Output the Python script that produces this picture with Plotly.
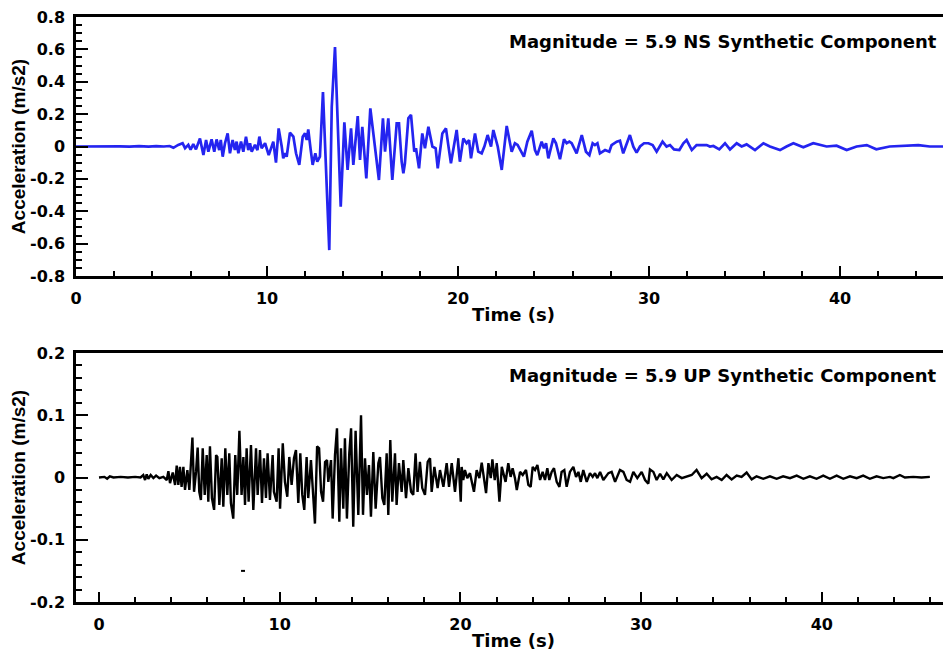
import plotly.graph_objects as go

# ---------------- data ----------------
# NS synthetic component (blue), time in s, acceleration in m/s2
ns_t = [0, 0.6, 1.0, 1.3, 1.8, 2.3, 2.8, 3.3, 3.8, 4.2, 4.6, 4.9, 5.1, 5.35, 5.58, 5.71, 5.88, 6.0, 6.14, 6.28,
        6.49, 6.67, 6.81, 6.93, 7.10, 7.24, 7.36, 7.50, 7.58, 7.68, 7.80, 7.94, 8.06, 8.20, 8.32, 8.41, 8.50, 8.64,
        8.76, 8.90, 9.02, 9.11, 9.20, 9.37, 9.50, 9.60, 9.72, 9.90, 10.09, 10.33, 10.47, 10.61, 10.77, 10.85, 10.94,
        11.03, 11.20, 11.38, 11.52, 11.69, 11.87, 11.99, 12.08, 12.16, 12.29, 12.39, 12.53, 12.63, 12.77, 12.93,
        13.26, 13.39, 13.56, 13.75, 13.86, 14.05, 14.22, 14.40, 14.52, 14.75, 14.87, 14.99, 15.08, 15.20, 15.41,
        15.65, 15.86, 16.07, 16.18, 16.35, 16.56, 16.79, 16.91, 17.05, 17.14, 17.22, 17.40, 17.54, 17.71, 17.80,
        17.96, 18.13, 18.27, 18.45, 18.66, 18.83, 18.94, 19.18, 19.37, 19.49, 19.63, 19.93, 20.10, 20.28, 20.45,
        20.58, 20.68, 20.89, 21.06, 21.24, 21.38, 21.55, 21.73, 21.85, 22.08, 22.29, 22.55, 22.81, 22.98, 23.12,
        23.33, 23.45, 23.63, 23.86, 24.03, 24.15, 24.38, 24.50, 24.61, 24.73, 24.99, 25.13, 25.34, 25.55, 25.69,
        25.83, 25.95, 26.21, 26.48, 26.70, 26.88, 27.05, 27.17, 27.30, 27.43, 27.70, 27.92, 28.04, 28.31, 28.48,
        28.65, 29.0, 29.18, 29.35, 29.53, 29.74, 29.97, 30.19, 30.40, 30.71, 30.92, 31.10, 31.31, 31.59, 31.80,
        31.97, 32.24, 32.49, 32.76, 33.02, 33.19, 33.37, 33.68, 33.98, 34.24, 34.59, 34.85, 35.11, 35.55, 35.99,
        36.33, 36.86, 37.2, 37.56, 38.08, 38.6, 39.3, 39.82, 40.35, 40.87, 41.4, 41.9, 42.6, 43.1, 44.1, 44.7,
        45.3, 46.0]
ns_a = [0, 0.001, -0.002, 0.002, -0.001, 0.001, -0.001, 0.002, -0.001, 0.002, 0.0, 0.003, -0.008, 0.01, 0.02,
        -0.01, 0.01, -0.02, 0.015, -0.018, 0.05, -0.053, 0.04, -0.032, 0.044, -0.032, 0.044, -0.022, 0.04, -0.063,
        0.02, 0.081, -0.042, 0.04, -0.022, 0.03, -0.042, 0.03, -0.032, 0.061, -0.022, 0.02, -0.032, 0.01, -0.022,
        0.061, -0.011, 0.02, -0.053, 0.03, -0.10, 0.112, 0.0, -0.073, -0.042, -0.063, 0.085, 0.061, -0.042, -0.114,
        0.061, 0.081, 0.04, 0.106, -0.022, -0.114, -0.042, -0.094, -0.063, 0.337, -0.64, 0.246, 0.615, -0.063,
        -0.372, 0.15, -0.145, 0.112, -0.114, 0.188, -0.083, 0.122, -0.042, -0.197, 0.236, -0.022, -0.207, 0.174,
        -0.032, 0.174, -0.207, 0.143, 0.143, -0.094, -0.166, -0.104, 0.174, 0.195, -0.032, -0.011, -0.135, 0.081,
        -0.011, 0.122, 0.0, -0.011, -0.135, 0.081, 0.112, 0.01, -0.104, 0.102, -0.094, 0.05, 0.02, 0.04, -0.073,
        0.081, -0.032, -0.042, 0.0, 0.071, 0.0, 0.102, 0.0, -0.145, 0.127, -0.032, 0.02, 0.01, -0.042, -0.063, 0.03,
        0.098, -0.022, -0.053, 0.03, -0.011, 0.02, -0.073, 0.05, 0.02, -0.079, 0.044, 0.02, 0.03, 0.02, -0.042,
        0.071, -0.032, -0.053, 0.02, 0.009, 0.02, -0.042, -0.022, -0.032, 0.009, 0.03, 0.036, -0.042, 0.071, -0.001,
        -0.038, 0.0, 0.02, 0.02, 0.009, -0.032, 0.03, 0.0, 0.009, -0.018, -0.022, 0.02, 0.04, -0.022, 0.009, 0.009,
        0.009, 0.0, 0.003, -0.018, 0.02, -0.018, 0.02, 0.0, 0.013, -0.022, 0.02, 0.0, -0.022, 0.0, 0.02, -0.005,
        0.02, 0.0, 0.005, -0.022, 0.0, 0.009, -0.017, 0.0, 0.004, 0.009, 0.0, 0.002, 0.0]

# UP synthetic component (black)
up_t = [0, 0.3, 0.45, 0.6, 0.8, 1.2, 1.6, 2.0, 2.3, 2.45, 2.55, 2.64, 2.73, 2.86, 3.01, 3.16, 3.34, 3.56, 3.75,
        3.84, 3.93, 4.08, 4.21, 4.30, 4.39, 4.48, 4.57, 4.67, 4.76, 4.89, 5.0, 5.17, 5.26, 5.37, 5.46, 5.55, 5.64,
        5.74, 5.85, 5.96, 6.05, 6.14, 6.25, 6.37, 6.48, 6.55, 6.66, 6.79, 6.88, 6.99, 7.10, 7.21, 7.30, 7.43, 7.54,
        7.65, 7.77, 7.89, 7.99, 8.08, 8.17, 8.28, 8.41, 8.54, 8.69, 8.78, 8.91, 9.02, 9.13, 9.24, 9.33, 9.46, 9.61,
        9.68, 9.83, 9.94, 10.02, 10.17, 10.29, 10.42, 10.53, 10.66, 10.79, 10.90, 11.03, 11.14, 11.25, 11.36,
        11.49, 11.58, 11.73, 11.82, 11.95, 12.07, 12.18, 12.29, 12.40, 12.51, 12.62, 12.69, 12.84, 12.93, 13.06,
        13.17, 13.30, 13.39, 13.52, 13.61, 13.72, 13.85, 13.95, 14.07, 14.20, 14.35, 14.50, 14.61, 14.72, 14.83,
        14.94, 15.05, 15.18, 15.31, 15.46, 15.55, 15.68, 15.79, 15.92, 16.01, 16.12, 16.23, 16.38, 16.47, 16.60,
        16.75, 16.84, 16.99, 17.12, 17.27, 17.39, 17.52, 17.63, 17.76, 17.89, 18.04, 18.19, 18.32, 18.41, 18.56,
        18.74, 18.87, 19.06, 19.24, 19.37, 19.52, 19.70, 19.89, 20.02, 20.07, 20.16, 20.25, 20.38, 20.53, 20.75,
        20.90, 21.05, 21.18, 21.31, 21.42, 21.55, 21.68, 21.77, 21.90, 22.01, 22.16, 22.29, 22.37, 22.50, 22.65,
        22.78, 22.89, 23.02, 23.12, 23.30, 23.45, 23.63, 23.76, 23.89, 24.00, 24.13, 24.26, 24.41, 24.55, 24.68,
        24.81, 24.92, 25.05, 25.18, 25.33, 25.48, 25.60, 25.75, 25.88, 26.06, 26.25, 26.40, 26.53, 26.66, 26.80,
        26.99, 27.17, 27.32, 27.45, 27.58, 27.73, 27.91, 28.19, 28.37, 28.56, 28.83, 29.02, 29.20, 29.39, 29.57,
        29.79, 30.03, 30.22, 30.40, 30.49, 30.68, 30.86, 31.05, 31.23, 31.42, 31.69, 31.97, 32.25, 32.52, 32.80,
        33.07, 33.35, 33.63, 33.90, 34.18, 34.46, 34.73, 35.01, 35.29, 35.56, 35.84, 36.12, 36.39, 36.76, 37.13,
        37.50, 37.86, 38.24, 38.61, 38.98, 39.34, 39.71, 40.08, 40.45, 40.82, 41.19, 41.56, 41.93, 42.29, 42.66,
        43.03, 43.40, 43.77, 43.96, 44.32, 44.60, 45.06, 45.52, 45.98]
up_a = [0, 0.001, -0.002, 0.002, 0, 0.001, 0, 0.001, 0, 0.004, -0.004, 0.005, -0.002, 0.004, -0.001, 0.003,
        -0.001, 0.001, -0.004, 0.010, -0.009, 0.008, -0.012, 0.019, -0.012, 0.017, -0.015, 0.017, -0.020, 0.012,
        -0.020, 0.064, -0.023, 0.009, 0.048, -0.023, -0.036, 0.047, -0.028, 0.036, -0.039, 0.050, -0.033, -0.052,
        0.036, 0.033, -0.044, 0.031, -0.047, 0.047, -0.028, 0.039, -0.041, -0.066, 0.036, -0.028, 0.075, -0.028,
        0.033, -0.044, 0.047, -0.039, 0.052, -0.052, 0.047, -0.028, 0.044, -0.041, 0.031, -0.033, 0.039, -0.036,
        0.036, -0.023, -0.039, 0.047, -0.050, 0.055, -0.007, -0.031, 0.033, -0.012, 0.031, 0.044, -0.041, 0.039,
        -0.028, -0.052, 0.033, -0.033, 0.028, -0.012, -0.074, 0.050, 0.047, -0.023, -0.039, 0.025, 0.028, -0.007,
        0.028, -0.066, 0.036, 0.079, -0.071, 0.047, -0.050, 0.063, -0.066, 0.039, 0.079, -0.079, 0.075, -0.060,
        0.100, -0.060, 0.031, -0.028, 0.020, -0.063, 0.041, -0.050, 0.023, 0.033, -0.033, -0.044, 0.039, -0.060,
        0.060, -0.039, 0.039, -0.044, 0.023, -0.023, 0.028, -0.033, 0.015, -0.023, -0.028, 0.039, -0.023, 0.025,
        -0.017, -0.028, 0.025, 0.031, -0.023, 0.017, -0.017, 0.012, -0.015, 0.023, -0.015, 0.023, -0.023, 0.031,
        -0.039, 0.017, -0.004, 0.012, -0.001, 0.007, -0.023, 0.012, -0.001, 0.024, -0.004, -0.025, 0.023, -0.001,
        0.029, -0.004, 0.023, -0.039, 0.017, 0.007, -0.007, 0.023, 0.001, 0.015, -0.001, -0.020, 0.009, 0.004,
        0.012, -0.012, -0.015, 0.017, 0.012, 0.020, -0.004, 0.009, -0.004, 0.015, -0.004, 0.009, 0.015, -0.007,
        -0.015, 0.009, 0.012, -0.015, 0.009, 0.017, 0.001, 0.009, -0.007, 0.012, -0.007, 0.007, 0.001, 0.007,
        -0.001, 0.009, -0.004, 0.007, 0.009, -0.007, 0.012, 0.009, -0.004, -0.007, 0.009, -0.001, 0.009, -0.004,
        -0.010, 0.013, 0.009, -0.004, 0.006, -0.003, 0.007, -0.004, 0.004, -0.001, 0.001, 0.004, 0.012, -0.001,
        0.006, -0.003, 0.001, -0.004, 0.004, -0.003, 0.003, 0.001, 0.008, -0.003, 0.002, -0.002, 0.002, -0.002,
        0.002, -0.001, 0.003, -0.002, 0.002, -0.002, 0.003, -0.002, 0.003, -0.002, 0.002, -0.001, 0.003, -0.002,
        0.002, -0.001, 0.001, -0.001, 0.004, 0.0, 0.001, 0.0, 0.001]

# small stray mark visible in the lower panel
mark_t = [7.86, 8.08]
mark_a = [-0.150, -0.150]

# tick values / labels
ns_xticks = [0, 10, 20, 30, 40]
ns_yticks = [-0.8, -0.6, -0.4, -0.2, 0, 0.2, 0.4, 0.6, 0.8]
ns_ylabels = ["-0.8", "-0.6", "-0.4", "-0.2", "0", "0.2", "0.4", "0.6", "0.8"]
up_xticks = [0, 10, 20, 30, 40]
up_yticks = [-0.2, -0.1, 0, 0.1, 0.2]
up_ylabels = ["-0.2", "-0.1", "0", "0.1", "0.2"]

ns_title = "Magnitude = 5.9 NS Synthetic Component"
up_title = "Magnitude = 5.9 UP Synthetic Component"

# ---------------- figure ----------------
OFF = 8                      # page body margin in the browser
W, H = 951 - OFF, 659 - OFF
BLUE = "#2424f0"


def px_x(p):
    return (p - OFF) / W


def px_y(p):
    return 1 - (p - OFF) / H


fig = go.Figure()
fig.add_trace(go.Scatter(x=ns_t, y=ns_a, mode="lines", line=dict(color=BLUE, width=2.7),
                         xaxis="x", yaxis="y", showlegend=False, hoverinfo="skip"))
fig.add_trace(go.Scatter(x=up_t, y=up_a, mode="lines", line=dict(color="black", width=2.4),
                         xaxis="x2", yaxis="y2", showlegend=False, hoverinfo="skip"))
fig.add_trace(go.Scatter(x=mark_t, y=mark_a, mode="lines", line=dict(color="black", width=2),
                         xaxis="x2", yaxis="y2", showlegend=False, hoverinfo="skip"))

tickfont = dict(family="DejaVu Sans", size=16, color="black", weight="bold")
xtitlefont = dict(family="DejaVu Sans", size=18, color="black", weight="bold")
ytitlefont = dict(family="Liberation Sans", size=19, color="black", weight="bold")


def xaxis(domain, rng, tickvals, anchor):
    return dict(domain=domain, range=rng, anchor=anchor,
                tickmode="array", tickvals=tickvals, ticktext=[str(v) for v in tickvals],
                ticks="inside", ticklen=10, tickwidth=2, tickcolor="black",
                minor=dict(dtick=2, tick0=0, ticks="inside", ticklen=5, tickwidth=1.5, tickcolor="black"),
                showline=True, linecolor="black", linewidth=2.5, mirror=True,
                showgrid=False, zeroline=False, tickfont=tickfont, ticklabelstandoff=6,
                ticklabeloverflow="allow",
                title=dict(text="Time (s)", font=xtitlefont, standoff=2), automargin=False)


def yaxis(domain, rng, tickvals, ticktext, minor_dtick, anchor):
    return dict(domain=domain, range=rng, anchor=anchor,
                tickmode="array", tickvals=tickvals, ticktext=ticktext,
                ticks="inside", ticklen=12, tickwidth=2, tickcolor="black",
                minor=dict(dtick=minor_dtick, tick0=0, ticks="inside", ticklen=6, tickwidth=1.5, tickcolor="black"),
                showline=True, linecolor="black", linewidth=2.5, mirror=False,
                showgrid=False, zeroline=False, tickfont=tickfont, ticklabelstandoff=5,
                ticklabeloverflow="allow",
                title=dict(text="Acceleration (m/s2)", font=ytitlefont, standoff=0), automargin=False)


fig.update_layout(
    width=W, height=H,
    margin=dict(l=0, r=0, t=0, b=0),
    paper_bgcolor="white", plot_bgcolor="white",
    xaxis=xaxis([px_x(76), 1.0], [0, (951 - 76) / 19.1], ns_xticks, "y"),
    yaxis=yaxis([px_y(276), px_y(17)], [-0.8, 0.8], ns_yticks, ns_ylabels, 0.05, "x"),
    xaxis2=xaxis([px_x(76), 1.0], [-(99 - 76) / 18.07, (951 - 99) / 18.07], up_xticks, "y2"),
    yaxis2=yaxis([px_y(602), px_y(353)], [-0.2, 0.2], up_yticks, up_ylabels, 0.02, "x2"),
    annotations=[
        dict(text=ns_title, x=px_x(939), y=px_y(41), xref="paper", yref="paper",
             xanchor="right", yanchor="middle", showarrow=False, font=xtitlefont),
        dict(text=up_title, x=px_x(939), y=px_y(375.5), xref="paper", yref="paper",
             xanchor="right", yanchor="middle", showarrow=False, font=xtitlefont),
    ],
)

fig.write_html("out.html")
